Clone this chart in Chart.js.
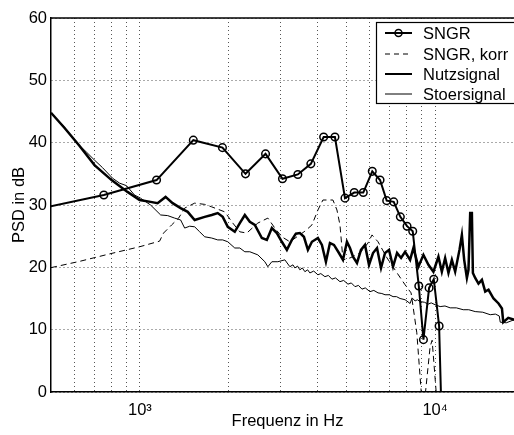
<!DOCTYPE html>
<html>
<head>
<meta charset="utf-8">
<script src="https://cdn.jsdelivr.net/npm/chart.js@4.4.1/dist/chart.umd.min.js"></script>
<style>
  html, body { margin:0; padding:0; background:#fff; overflow:hidden; }
  #wrap { width:540px; height:435px; }
</style>
</head>
<body>
<div id="wrap"><canvas id="psdChart" width="540" height="435"></canvas></div>
<script>

/* ---------- data ---------- */

const xGridTicks = [500, 600, 700, 800, 900, 1000, 2000, 3000, 4000, 5000, 6000, 7000, 8000, 9000, 10000, 20000];
const yTicks = [0, 10, 20, 30, 40, 50, 60];

const sngrFreq = [370, 755, 1139, 1517, 1904, 2279, 2665, 3041, 3428, 3794, 4192, 4578, 4951, 5322, 5711,
    6125, 6508, 6855, 7241, 7624, 8035, 8397, 8805, 9129, 9541, 9896, 10316, 10600];
const sngrDb = [28.5, 31.6, 34.0, 40.4, 39.2, 35.0, 38.2, 34.2, 34.9, 36.6, 40.9, 40.9, 31.1, 32.0, 32.0,
    35.4, 34.0, 30.7, 30.5, 28.1, 26.6, 25.8, 17.0, 8.4, 16.7, 18.1, 10.6, -10];

const korrFreq = [500, 624, 789, 998, 1166, 1203, 1281, 1353, 1418, 1533, 1658, 1751, 1939, 2064, 2180, 2302,
    2509, 2713, 2865, 3026, 3221, 3429, 3622, 3826, 4009, 4168, 4507, 4650, 4761, 4874, 5148, 5566, 5925,
    6113, 6406, 6873, 7432, 7912, 8291, 8669, 9071, 9142, 9618, 9770, 10197, 20000];
const korrDb = [19.95, 20.95, 22.15, 23.3, 24.2, 25.5, 26.8, 27.9, 29.5, 30.3, 30.1, 29.7, 28.9, 27.1, 25.7, 25.5,
    27.1, 27.9, 26.3, 24.9, 24.1, 25.0, 25.8, 26.8, 29.2, 30.8, 30.8, 29.2, 26.8, 21.2, 21.5, 22.3, 23.9,
    25.2, 24.1, 21.5, 19.1, 17.2, 15.9, 9.5, -3, -3, 7.3, 8.3, -3, -3];

const nutzFreq = [500, 555, 624, 702, 802, 908, 998, 1087, 1148, 1222, 1291, 1374, 1452, 1533, 1658, 1751,
    1835, 1908, 1985, 2096, 2180, 2267, 2357, 2451, 2589, 2692, 2799, 2910, 3026, 3147, 3272, 3376, 3483,
    3594, 3708, 3826, 4009, 4136, 4267, 4403, 4543, 4724, 4874, 5028, 5148, 5270, 5437, 5609, 5787, 5971,
    6161, 6356, 6558, 6766, 6981, 7203, 7432, 7668, 7912, 8227, 8442, 8778, 9128, 9491, 9868, 10261, 10538,
    10813, 11095, 11394, 11692, 12091, 12320, 12543, 12810, 12972, 13145, 13321, 13425, 13669, 14026, 14404,
    14780, 15166, 15770, 16399, 16840, 17012, 17690, 18536, 20000];
const nutzDb = [44.8, 42.4, 39.5, 36.4, 34.0, 32.1, 30.8, 30.5, 30.3, 31.3, 30.3, 29.5, 28.9, 27.6, 28.1, 28.4,
    28.7, 28.1, 26.5, 25.7, 27.1, 28.4, 27.3, 26.8, 24.7, 24.4, 26.3, 25.5, 24.1, 22.8, 24.4, 25.4, 25.5,
    24.9, 22.8, 24.1, 24.7, 23.6, 20.9, 23.9, 23.6, 22.3, 21.2, 24.1, 23.1, 21.7, 20.7, 22.8, 23.6, 20.4,
    22.3, 23.1, 19.9, 22.3, 22.8, 20.1, 22.3, 21.5, 22.5, 21.2, 23.1, 20.1, 22.0, 20.4, 19.3, 21.7, 19.3,
    21.5, 19.1, 21.2, 19.3, 22.8, 25.2, 21.2, 18.3, 19.6, 28.7, 28.7, 19.1, 18.3, 17.4, 18.0,
    16.1, 16.4, 15.0, 14.2, 13.4, 11.2, 11.9, 11.6, 11.9];

const stoerFreq = [500, 555, 610, 659, 702, 747, 808, 854, 901, 959, 1005, 1087, 1176, 1242, 1311, 1374, 1418,
    1475, 1533, 1594, 1658, 1751, 1835, 1908, 1985, 2096, 2180, 2267, 2357, 2509, 2650, 2713, 2799, 2933,
    3098, 3221, 3300, 3350, 3420, 3483, 3550, 3622, 3700, 3766, 3880, 4009, 4100, 4234, 4350, 4472, 4600,
    4761, 4900, 5068, 5200, 5353, 5500, 5653, 5800, 6018, 6200, 6406, 6600, 6766, 7000, 7203, 7400, 7608,
    7912, 8227, 8356, 8555, 8700, 8895, 9200, 9469, 9700, 10000, 10398, 10800, 11243, 11800, 12446, 13000,
    13669, 14500, 15368, 16000, 16489, 16618, 17415, 18536, 20000];
const stoerDb = [44.8, 42.5, 40.0, 38.5, 37.2, 36.0, 34.3, 33.5, 33.1, 31.6, 31.1, 30.0, 28.4, 28.3, 27.9, 27.6, 26.3,
    26.6, 26.5, 25.7, 24.9, 24.7, 24.4, 24.4, 24.1, 23.1, 23.1, 22.5, 22.5, 22.0, 20.9, 20.1, 20.9, 20.9,
    21.2, 20.1, 20.4, 19.9, 20.2, 19.6, 19.9, 19.3, 19.6, 19.1, 19.4, 18.8, 19.0, 18.5, 18.7, 18.1, 18.3,
    17.7, 17.9, 17.3, 17.5, 16.9, 17.1, 16.5, 16.7, 16.1, 16.3, 15.9, 15.8, 15.6, 15.6, 15.3, 15.3, 15.0,
    14.8, 14.2, 15.1, 14.6, 14.8, 14.5, 14.4, 14.1, 14.3, 14.0, 13.7, 13.8, 13.5, 13.5, 13.2, 13.2,
    12.9, 12.8, 12.4, 12.5, 12.2, 11.2, 11.1, 11.6, 11.4];

const legendLabels = ["SNGR", "SNGR, korr", "Nutzsignal", "Stoersignal"];

/* ---------- helpers ---------- */

function toPoints(xs, ys){
    return xs.map((x,i)=>({x:x, y:ys[i]}));
}

const FONT = "'Liberation Sans', Arial, Helvetica, sans-serif";
Chart.defaults.font.family = FONT;
Chart.defaults.font.size = 16.5;
Chart.defaults.color = "#000";

/* box on top + legend drawn inside the axes */
const boxAndLegend = {
    id:"boxAndLegend",
    afterDraw(chart){
        const ctx = chart.ctx;
        const a = chart.chartArea;

        ctx.save();
        ctx.strokeStyle = "#000";
        ctx.lineWidth = 1.5;
        ctx.beginPath();
        ctx.moveTo(a.left, a.top);
        ctx.lineTo(chart.width, a.top);
        ctx.stroke();

        // legend box
        const bx = 376, by = 22, bh = 81;
        ctx.fillStyle = "#fff";
        ctx.fillRect(bx, by, chart.width - bx, bh);
        ctx.lineWidth = 1.2;
        ctx.strokeRect(bx + 0.5, by + 0.5, chart.width - bx, bh);

        const rows = [33, 54, 74, 94];
        ctx.font = "16.5px " + FONT;
        ctx.textBaseline = "middle";
        ctx.textAlign = "left";
        rows.forEach((ry,i)=>{
            ctx.beginPath();
            ctx.setLineDash(i === 1 ? [5,4] : []);
            ctx.lineWidth = (i === 0 || i === 2) ? 2 : 1;
            ctx.moveTo(385, ry);
            ctx.lineTo(412, ry);
            ctx.stroke();
            ctx.setLineDash([]);
            if(i === 0){
                ctx.lineWidth = 1.5;
                ctx.beginPath();
                ctx.arc(398.5, ry, 3.5, 0, Math.PI*2);
                ctx.stroke();
            }
            ctx.fillStyle = "#000";
            ctx.fillText(legendLabels[i], 423, ry + 1);
        });
        ctx.restore();
    }
};

new Chart(document.getElementById("psdChart"),{
    type:"line",
    data:{
        datasets:[
            {
                label:legendLabels[0],
                data:toPoints(sngrFreq, sngrDb),
                borderColor:"#000",
                borderWidth:2,
                pointRadius:3.8,
                pointBorderWidth:1.5,
                pointBorderColor:"#000",
                pointBackgroundColor:"rgba(0,0,0,0)",
                tension:0
            },
            {
                label:legendLabels[1],
                data:toPoints(korrFreq, korrDb),
                borderColor:"#000",
                borderWidth:1,
                borderDash:[6,4],
                pointRadius:0,
                tension:0
            },
            {
                label:legendLabels[2],
                data:toPoints(nutzFreq, nutzDb),
                borderColor:"#000",
                borderWidth:2.5,
                pointRadius:0,
                tension:0
            },
            {
                label:legendLabels[3],
                data:toPoints(stoerFreq, stoerDb),
                borderColor:"#000",
                borderWidth:1,
                pointRadius:0,
                tension:0
            }
        ]
    },
    options:{
        responsive:false,
        animation:false,
        events:[],
        layout:{ padding:{ left:0, top:18, right:16, bottom:0 } },
        plugins:{
            legend:{ display:false },
            tooltip:{ enabled:false }
        },
        scales:{
            x:{
                type:"logarithmic",
                min:500,
                max:20000,
                afterBuildTicks(scale){
                    scale.ticks = xGridTicks.map(v=>({value:v}));
                },
                afterFit(scale){ scale.height = 43; },
                grid:{
                    drawTicks:false,
                    color:(c)=> c.tick && c.tick.value === 500 ? "rgba(0,0,0,0)" : "#555",
                    lineWidth:1
                },
                border:{ display:true, color:"#000", width:1.5, dash:[1,3] },
                ticks:{
                    autoSkip:false,
                    maxRotation:0,
                    padding:9,
                    callback:(v)=> v === 1000 ? "10\u00B3" : (v === 10000 ? "10\u2074" : "")
                },
                title:{
                    display:true,
                    text:"Frequenz in Hz",
                    padding:{ top:0, bottom:4 }
                }
            },
            y:{
                min:0,
                max:60,
                afterBuildTicks(scale){
                    scale.ticks = yTicks.map(v=>({value:v}));
                },
                afterFit(scale){ scale.width = 51; },
                grid:{
                    drawTicks:false,
                    color:"#555",
                    lineWidth:1
                },
                border:{ display:true, color:"#000", width:1.5, dash:[1,3] },
                ticks:{
                    padding:4,
                    callback:(v)=> String(v)
                },
                title:{
                    display:true,
                    text:"PSD in dB",
                    padding:{ top:10, bottom:0 }
                }
            }
        }
    },
    plugins:[boxAndLegend]
});

</script>
</body>
</html>
